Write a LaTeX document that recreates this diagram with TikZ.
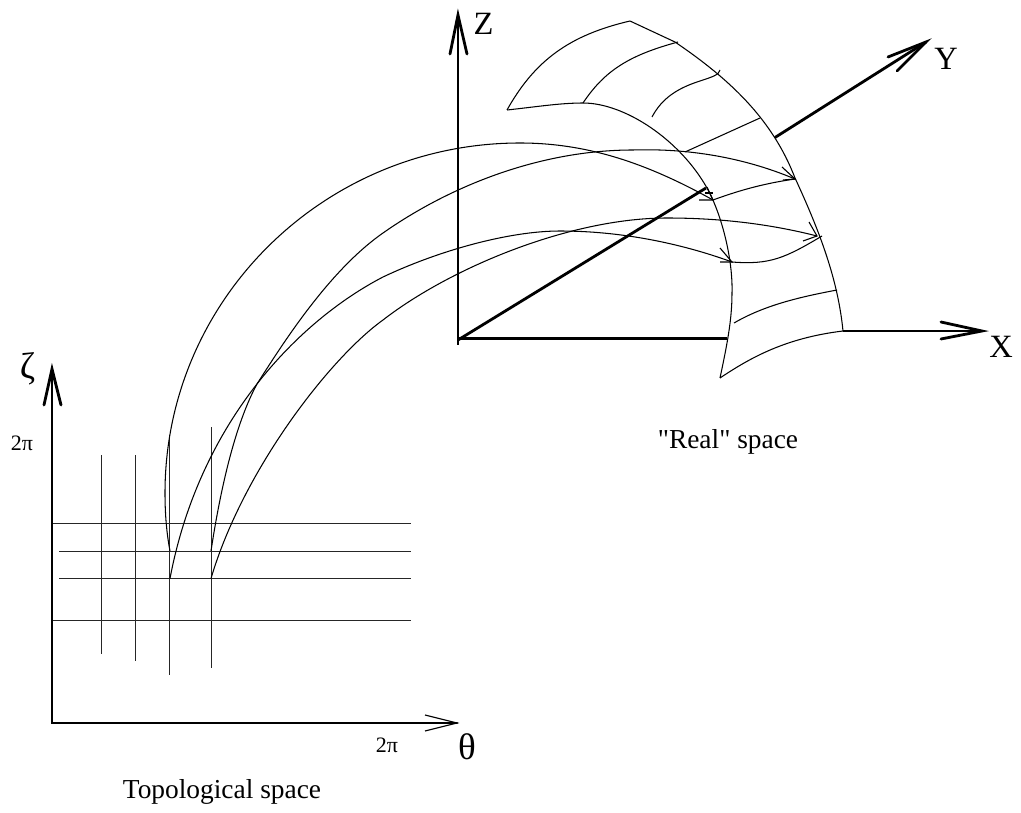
\documentclass[tikz,border=0pt]{standalone}
\usepackage{fontspec}
\setmainfont{Liberation Serif}
\newfontfamily\plainserif{Liberation Serif}
\tikzset{
  curveline/.style={line width=1.05pt,black},
  gridline/.style={line width=0.9pt,black!85},
  axisline/.style={line width=2.8pt,black},
  thinhead/.style={line width=1.1pt,black},
  axislabel/.style={inner sep=0pt,font=\fontsize{32.5}{33}\selectfont},
  greeklabel/.style={inner sep=0pt,font=\fontsize{37}{37}\selectfont},
  smalllabel/.style={inner sep=0pt,font=\fontsize{22}{22}\selectfont},
  caption/.style={inner sep=0pt,font=\plainserif\fontsize{27.4}{30}\selectfont}
}
\begin{document}
\begin{tikzpicture}[x=1pt,y=-1pt]
\useasboundingbox (0,0) rectangle (1021,813);
% key points
\coordinate (O3) at (458,340);
\coordinate (Zt) at (458,15);
\coordinate (Ytip) at (926,42);
\coordinate (Xtip) at (982,331);
\coordinate (O2) at (52,723);
\coordinate (Zeta) at (52,369);
\coordinate (Theta) at (457,723);
\coordinate (s1) at (170,551);
\coordinate (s2) at (211,551);
\coordinate (s3) at (170,578.5);
\coordinate (s4) at (211,578.5);
\coordinate (e1) at (713,200);
\coordinate (e2) at (795,179);
\coordinate (e3) at (732,262);
\coordinate (e4) at (817,236);
\coordinate (corner) at (843,331);
\coordinate (tl) at (507,110);
\coordinate (tr) at (630,21);
\coordinate (bl) at (720,378);
% grid
\foreach \x/\a/\b in {101/455/654,135/455/661,169.5/435/675,211/427/668}
  \draw[gridline] (\x,\a) -- (\x,\b);
\foreach \y/\a in {523.5/52,551/59,578.5/59,620/52}
  \draw[gridline] (\a,\y) -- (411,\y);
% topological axes
\draw[axisline,line cap=round] (Zeta) -- (O2) -- (Theta);
\draw[axisline,line cap=round] (44,405) -- (Zeta) -- (61,405);
\draw[thinhead] (425,715) -- (Theta) -- (425,731);
% real-space axes
\draw[axisline] (Zt) -- (458,345);
\draw[axisline,line cap=round] (450,54) -- (Zt) -- (467,54);
\draw[axisline] (O3) -- (706,188);
\draw[axisline] (775,137.5) -- (Ytip);
\draw[axisline,line cap=round] (888,57) -- (Ytip) -- (897,71);
\draw[axisline] (458,338.5) -- (727,338.5);
\draw[axisline] (corner) -- (Xtip);
\draw[axisline,line cap=round] (941,322) -- (Xtip) -- (941,339);
% surface outline
\draw[curveline] (tr) -- (675,42) .. controls (728,78) and (772,118) .. (795,178)
   .. controls (820,232) and (838,280) .. (corner);
\draw[curveline] (tl) .. controls (535,60) and (570,35) .. (tr);
\draw[curveline] (tl) .. controls (535,107) and (560,103) .. (583,103)
   .. controls (625,103) and (680,140) .. (707,188)
   .. controls (722,215) and (733,260) .. (732,293)
   .. controls (732,320) and (727,345) .. (bl);
\draw[curveline] (bl) .. controls (750,358) and (785,338) .. (corner);
% surface grid lines
\draw[curveline] (583,103) .. controls (605,70) and (630,55) .. (678,42);
\draw[curveline] (652,117) .. controls (662,98) and (678,88) .. (700,81)
   .. controls (712,77) and (719,75) .. (720,70);
\draw[curveline] (685,152) -- (760,118);
\draw[curveline] (e1) .. controls (735,192) and (760,184) .. (e2);
\draw[curveline] (e3) .. controls (770,265) and (785,258) .. (822,236);
\draw[curveline] (734,323) .. controls (765,305) and (800,297) .. (837,290);
% mapping curves
\draw[curveline] (s1) .. controls (166,530) and (165,510) .. (165,493)
   .. controls (165,300) and (324,143) .. (520,143)
   .. controls (590,143) and (650,165) .. (e1);
\draw[curveline] (s2) .. controls (218,505) and (232,430) .. (257,384)
   .. controls (285,340) and (330,270) .. (383,233)
   .. controls (450,186) and (540,150) .. (633,150)
   .. controls (695,148) and (750,160) .. (e2);
\draw[curveline] (s3) .. controls (200,420) and (300,320) .. (383,277)
   .. controls (440,250) and (510,231) .. (560,231)
   .. controls (620,231) and (680,243) .. (e3);
\draw[curveline] (s4) .. controls (243,470) and (330,358) .. (383,320)
   .. controls (450,268) and (570,218) .. (667,218)
   .. controls (720,218) and (770,224) .. (e4);
% arrowheads on the mapping curves
\draw[thinhead] (699,200) -- (e1) -- (707,187);
\draw[thinhead] (705,193) -- (713,193);
\draw[thinhead] (782,167) -- (e2) -- (783,180);
\draw[thinhead] (809,222) -- (e4) -- (803,241);
\draw[thinhead] (720,248) -- (e3) -- (720,262);
% labels
\node[axislabel] (zl) at (483.5,24) {Z};
\node[axislabel] (yl) at (946,59) {Y};
\node[axislabel] (xl) at (1001,347) {X};
\node[greeklabel] (zetal) at (27.5,369) {ζ};
\node[greeklabel] (thetal) at (467,747) {θ};
\node[smalllabel] (tp) at (22,443) {2π};
\node[smalllabel] (tp2) at (387,745) {2π};
\node[caption] (topo) at (222,792) {Topological space};
\node[caption] (real) at (728,442) {"Real" space};
\end{tikzpicture}
\end{document}
